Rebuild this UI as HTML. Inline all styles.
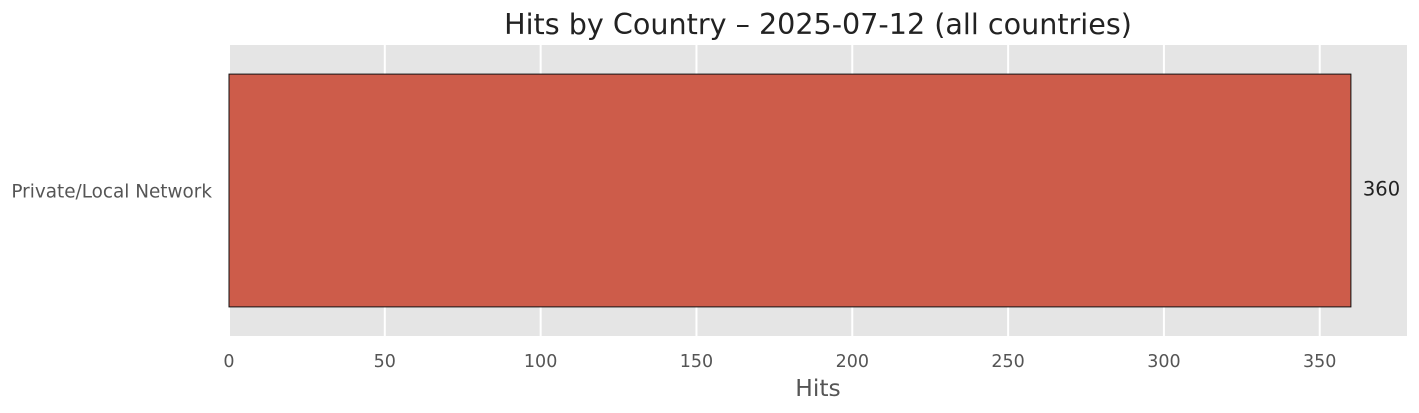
<!DOCTYPE html>
<html><head><meta charset="utf-8"><style>
body{margin:0;background:#fff;}
svg{display:block;font-family:"DejaVu Sans","Liberation Sans",sans-serif;}
</style></head><body>
<svg id="chart" width="1419" height="413" xmlns="http://www.w3.org/2000/svg">
<text x="818" y="34" text-anchor="middle" font-size="28.6" fill="#222">Hits by Country – 2025-07-12 (all countries)</text>
<rect x="229" y="45" width="1178" height="291" fill="#e5e5e5"/>
<g id="grid"></g>
<g id="bars"></g>
<g id="xticks"></g>
<text x="818" y="396" text-anchor="middle" font-size="23.4" fill="#555">Hits</text>
</svg>
<script>
const categories = ["Private/Local Network"];
const hits = [360];
const xTicks = [0, 50, 100, 150, 200, 250, 300, 350];
const xMax = 378;

const L = 229, R = 1407, T = 45, B = 336;
const ns = "http://www.w3.org/2000/svg";
function x(v){ return L + v / xMax * (R - L); }
function mk(tag, attrs, parent){ const e = document.createElementNS(ns, tag); for (const k in attrs) e.setAttribute(k, attrs[k]); parent.appendChild(e); return e; }
const grid = document.getElementById('grid'), bars = document.getElementById('bars'), xt = document.getElementById('xticks');
xTicks.forEach(t => {
  const g = mk('line', {x1: x(t), x2: x(t), y1: T, y2: B, stroke: '#fff', 'stroke-width': 2}, grid);
  
  
  const lbl = mk('text', {x: x(t), y: 367, 'text-anchor': 'middle', 'font-size': 17.5, fill: '#555'}, xt);
  lbl.textContent = t;
  
  
});
const n = categories.length, band = (B - T) / n;
categories.forEach((c, i) => {
  const y0 = T + i * band + band * 0.1, h = band * 0.8;
  const r = mk('rect', {x: x(0), y: y0, width: x(hits[i]) - x(0), height: h, fill: '#cd5c4a', stroke: '#111', 'stroke-width': 1}, bars);
  
  
  const yl = mk('text', {x: 212, y: y0 + h / 2 + 7, 'text-anchor': 'end', 'font-size': 18.4, fill: '#555'}, bars);
  yl.textContent = c;
  
  
  const vl = mk('text', {x: x(hits[i]) + 12, y: y0 + h / 2 + 5, 'font-size': 19.5, fill: '#222'}, bars);
  vl.textContent = hits[i];
  
  
});
</script>
</body></html>
